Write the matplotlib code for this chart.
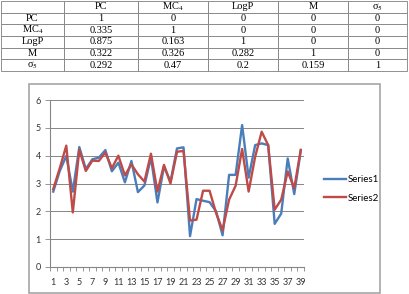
import matplotlib
matplotlib.use("Agg")
import matplotlib.pyplot as plt
from matplotlib.patches import Rectangle

# correlation table
col_labels = ["", "PC", "MC$_4$", "LogP", "M", "σ$_5$"]
row_labels = ["PC", "MC$_4$", "LogP", "M", "σ$_5$"]
cell_values = [
    ["1", "0", "0", "0", "0"],
    ["0.335", "1", "0", "0", "0"],
    ["0.875", "0.163", "1", "0", "0"],
    ["0.322", "0.326", "0.282", "1", "0"],
    ["0.292", "0.47", "0.2", "0.159", "1"],
]

# line chart data
x = list(range(1, 40))
series1 = [2.71, 3.45, 3.99, 2.71, 4.31, 3.52, 3.87, 3.93, 4.20, 3.44,
           3.75, 3.04, 3.81, 2.69, 2.93, 3.93, 2.32, 3.61, 3.07, 4.26,
           4.30, 1.11, 2.44, 2.38, 2.33, 2.00, 1.14, 3.31, 3.31, 5.10,
           3.21, 4.38, 4.44, 4.38, 1.55, 1.92, 3.90, 2.62, 4.17]
series2 = [2.80, 3.55, 4.36, 1.96, 4.21, 3.45, 3.82, 3.81, 4.11, 3.55,
           4.00, 3.29, 3.69, 3.33, 3.07, 4.07, 2.71, 3.67, 3.00, 4.14,
           4.17, 1.67, 1.70, 2.74, 2.74, 1.94, 1.32, 2.42, 2.92, 4.24,
           2.71, 3.96, 4.86, 4.38, 2.06, 2.42, 3.43, 2.83, 4.21]

plt.rcParams["mathtext.fontset"] = "stix"

W, H = 409, 294
fig = plt.figure(figsize=(W / 100, H / 100), dpi=100)

def fx(px):
    return px / W

def fy(py):
    return 1 - py / H

# --- table ---
tax = fig.add_axes([fx(1), fy(71), fx(406), 70 / H])
tax.axis("off")
col_w = [63, 74, 70, 70, 70, 59]
tot = sum(col_w)
rows = [col_labels] + [[r] + v for r, v in zip(row_labels, cell_values)]
tbl = tax.table(cellText=rows, colWidths=[w / tot for w in col_w],
                cellLoc="center", bbox=[0, 0, 1, 1])
tbl.auto_set_font_size(False)
for (r, c), cell in tbl.get_celld().items():
    cell.set_edgecolor("#7f7f7f")
    cell.set_linewidth(0.6)
    cell.get_text().set_fontfamily("Liberation Serif")
    cell.get_text().set_fontsize(7.5)

# --- chart frame ---
fig.patches.append(Rectangle((fx(29), fy(293)), fx(380) - fx(29), fy(84) - fy(293),
                             transform=fig.transFigure, fill=False,
                             edgecolor="#a6a6a6", linewidth=1.2))

ax = fig.add_axes([fx(50), fy(267), fx(304) - fx(50), fy(100) - fy(267)])
ax.plot(x, series1, color="#4a7ebb", lw=1.7, label="Series1")
ax.plot(x, series2, color="#be4b48", lw=1.7, label="Series2")

ax.set_xlim(0.5, 39.5)
ax.set_ylim(0, 6)
ax.set_yticks(range(0, 7))
ax.set_xticks(x[::2])
ax.set_xticks([i + 0.5 for i in range(0, 40)], minor=True)
ax.grid(axis="y", color="#868686", lw=0.7)
ax.set_axisbelow(True)
for s in ["top", "right"]:
    ax.spines[s].set_visible(False)
ax.spines["left"].set_color("#868686")
ax.spines["bottom"].set_color("#868686")
ax.tick_params(axis="y", length=3.5, width=0.6, color="#868686", pad=3,
               labelsize=6.5, labelcolor="#333333")
ax.tick_params(axis="x", which="major", length=0, pad=8, labelsize=6.5,
               labelcolor="#333333")
ax.tick_params(axis="x", which="minor", length=3, width=0.6, color="#868686")
for lab in ax.get_xticklabels() + ax.get_yticklabels():
    lab.set_fontfamily("Lato")

fig.legend(loc="center left", bbox_to_anchor=(fx(319), fy(189)),
           frameon=False, borderpad=0, handlelength=2.3, handletextpad=0.2,
           labelspacing=1.0, prop={"family": "Lato", "size": 7})

fig.savefig("out.png", dpi=100)
